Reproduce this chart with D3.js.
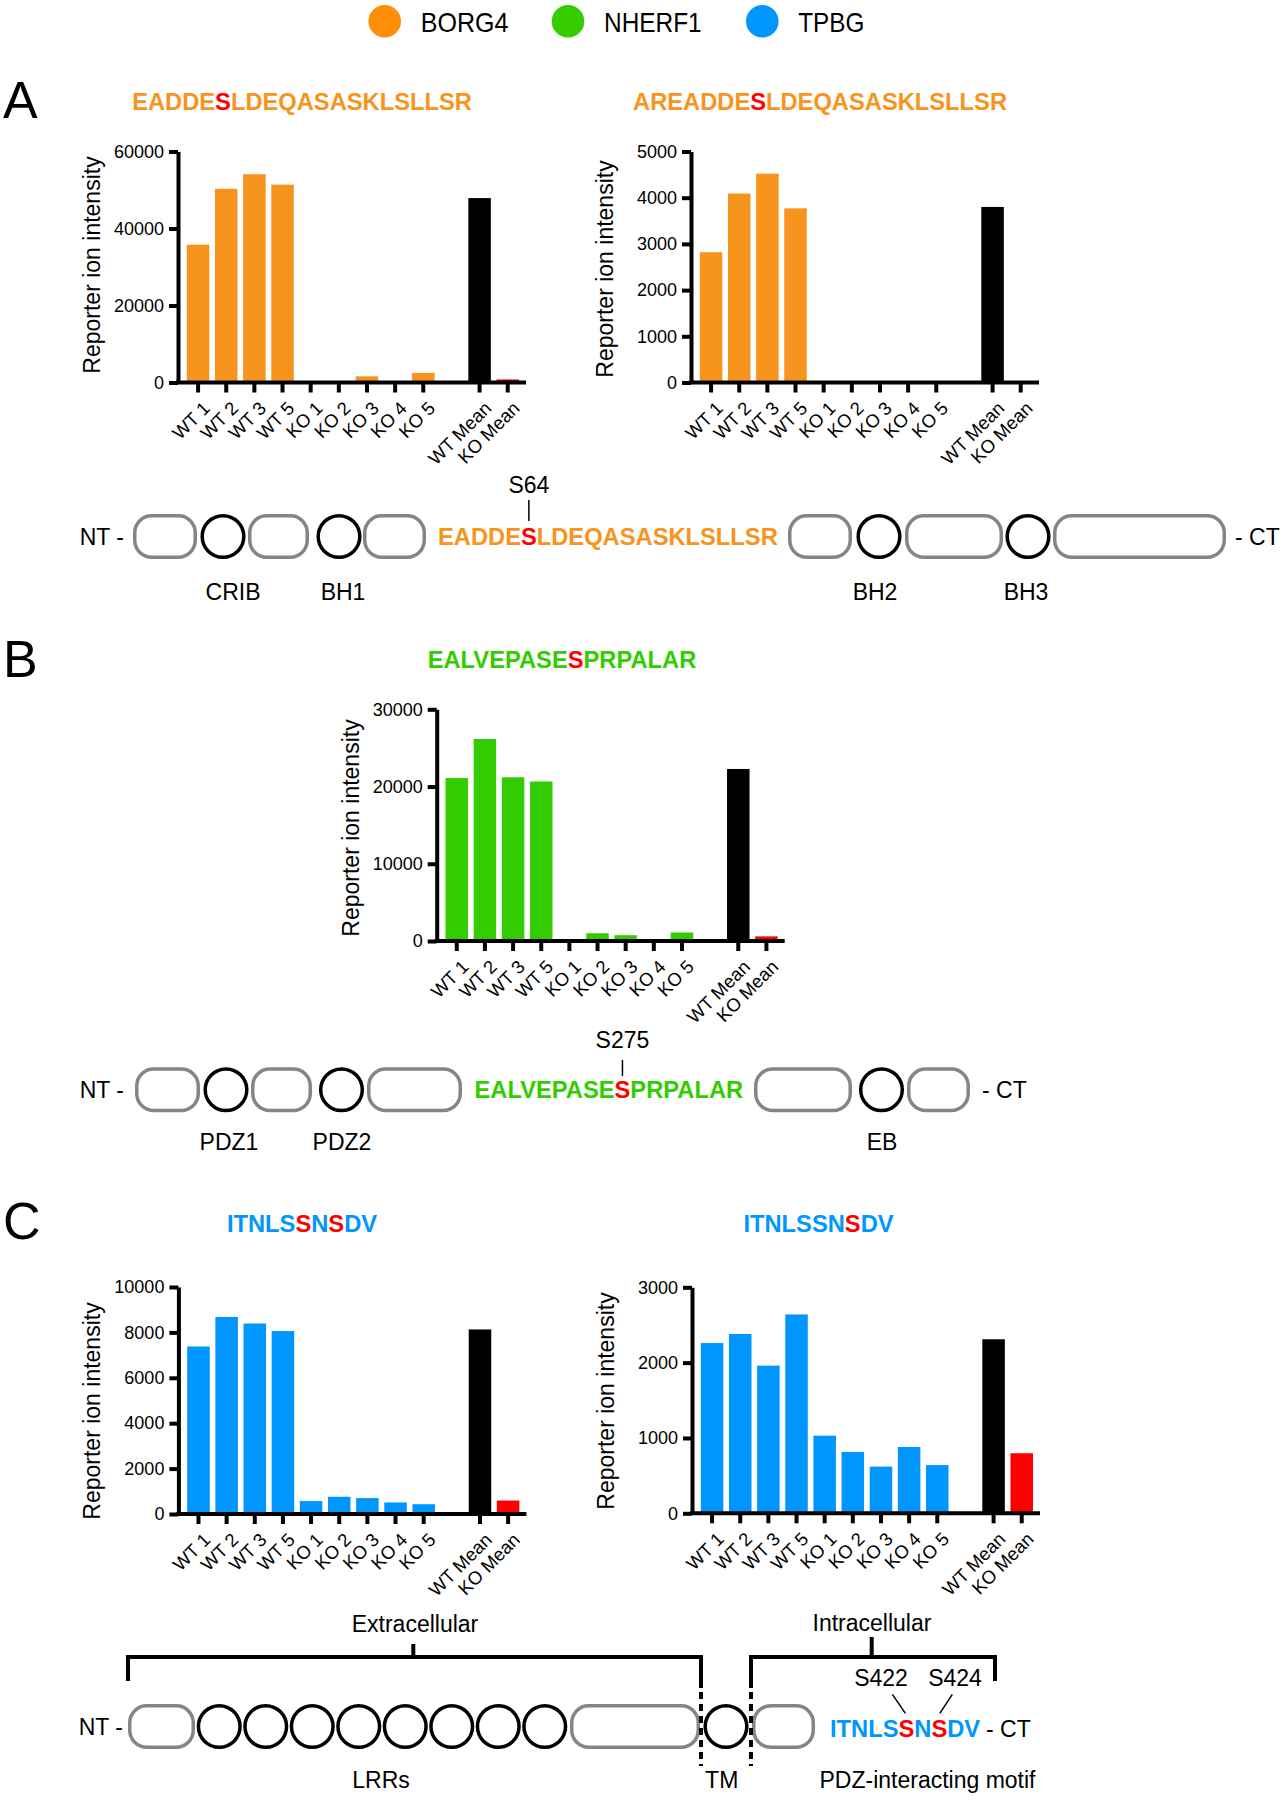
<!DOCTYPE html>
<html><head><meta charset="utf-8">
<script src="https://cdn.jsdelivr.net/npm/d3@7"></script>
<style>
body{margin:0;background:#fff}
svg{display:block}
text{font-family:"Liberation Sans",Arial,Helvetica,sans-serif}
</style>
</head><body>
<svg id="fig" width="1285" height="1800"></svg>
<script>
// ---------------- DATA ----------------
const categories = ["WT 1","WT 2","WT 3","WT 5","KO 1","KO 2","KO 3","KO 4","KO 5","WT Mean","KO Mean"];

const legendNames = ["BORG4","NHERF1","TPBG"];

// BORG4 peptide 1: EADDESLDEQASASKLSLLSR
const borg4Pep1Values = [35800, 50300, 54100, 51400, 300, 0, 1600, 0, 2500, 47900, 800];
const borg4Pep1Ticks = [0, 20000, 40000, 60000];
// BORG4 peptide 2: AREADDESLDEQASASKLSLLSR
const borg4Pep2Values = [2820, 4090, 4520, 3770, 0, 0, 0, 0, 0, 3800, 0];
const borg4Pep2Ticks = [0, 1000, 2000, 3000, 4000, 5000];
// NHERF1 peptide: EALVEPASESPRPALAR
const nherf1Values = [21100, 26150, 21200, 20650, 0, 1000, 750, 0, 1100, 22275, 600];
const nherf1Ticks = [0, 10000, 20000, 30000];
// TPBG peptide (S422 + S424)
const tpbgPep1Values = [7380, 8680, 8390, 8060, 570, 760, 700, 510, 430, 8130, 594];
const tpbgPep1Ticks = [0, 2000, 4000, 6000, 8000, 10000];
// TPBG peptide (S424)
const tpbgPep2Values = [2260, 2380, 1960, 2640, 1030, 815, 620, 880, 640, 2310, 797];
const tpbgPep2Ticks = [0, 1000, 2000, 3000];

const borg4Seq = "EADDESLDEQASASKLSLLSR";
const borg4Seq2 = "AREADDESLDEQASASKLSLLSR";
const nherf1Seq = "EALVEPASESPRPALAR";
const tpbgSeq = "ITNLSSNSDV";

const borg4Domains = ["CRIB","BH1","BH2","BH3"];
const nherf1Domains = ["PDZ1","PDZ2","EB"];
const tpbgRegions = ["LRRs","TM","PDZ-interacting motif"];

// ---------------- STYLE ----------------
const ORANGE = "#F7941D", GREEN = "#33CC00", BLUE = "#0096FF", RED = "#FF0000";
const legendColors = ["#FF8F0B", "#36CC00", "#0096FF"];
const FONT = '"Liberation Sans", Arial, Helvetica, sans-serif';
const svg = d3.select("#fig");

// ---------------- LEGEND ----------------
const legendPos = [384.7, 568, 762.3];
const legendTextW = [87.7, 97.7, 66];
legendNames.forEach((n, i) => {
  svg.append("circle").attr("cx", legendPos[i]).attr("cy", 21.3).attr("r", 16.3).attr("fill", legendColors[i]);
  svg.append("text").attr("x", legendPos[i] + 36).attr("y", 31.5).attr("font-size", 28)
    .attr("textLength", legendTextW[i]).attr("lengthAdjust", "spacingAndGlyphs").attr("fill", "#000").text(n);
});

// ---------------- PANEL LETTERS ----------------
[["A", 118], ["B", 677], ["C", 1239]].forEach(([t, y]) => {
  svg.append("text").attr("x", 3).attr("y", y).attr("font-size", 52).attr("fill", "#000").text(t);
});

// ---------------- HELPERS ----------------
function seqText(x, y, seq, redIdx, color, anchor) {
  const t = svg.append("text").attr("x", x).attr("y", y).attr("font-size", 23.7)
    .attr("font-weight", "bold").attr("text-anchor", anchor || "start");
  seq.split("").forEach((c, i) => {
    t.append("tspan").attr("fill", redIdx.includes(i) ? RED : color).text(c);
  });
  return t;
}
function charCenter(t, i) {
  const e = t.node().getExtentOfChar(i);
  return e.x + e.width / 2;
}
function plainText(x, y, s, anchor, size) {
  return svg.append("text").attr("x", x).attr("y", y).attr("font-size", size || 23)
    .attr("text-anchor", anchor || "middle").attr("fill", "#000").text(s);
}

function barChart(o) {
  const g = svg.append("g");
  const step = 28.15;
  const slots = [...categories.slice(0, 9), "__gap", ...categories.slice(9)];
  const x = d3.scaleBand().domain(slots)
    .range([o.axisX + 6, o.axisX + 6 + step * slots.length])
    .paddingInner(0.2).paddingOuter(0.1);
  const y = d3.scaleLinear().domain([0, o.yMax]).range([o.bottom, o.top]);
  const rows = categories.map((c, i) => ({
    c, v: o.values[i],
    f: c === "WT Mean" ? "#000" : (c === "KO Mean" ? RED : o.color)
  }));
  g.selectAll("rect.bar").data(rows).join("rect").attr("class", "bar")
    .attr("x", d => x(d.c)).attr("width", x.bandwidth())
    .attr("y", d => y(d.v)).attr("height", d => o.bottom - y(d.v))
    .attr("fill", d => d.f);

  // y axis
  const yg = g.append("g").attr("transform", `translate(${o.axisX},0)`)
    .call(d3.axisLeft(y).tickValues(o.ticks).tickSize(9).tickPadding(5).tickSizeOuter(0).tickFormat(d3.format("d")));
  yg.attr("font-family", FONT);
  yg.select(".domain").attr("stroke", "#000").attr("stroke-width", 4);
  yg.selectAll(".tick line").attr("stroke", "#000").attr("stroke-width", 4);
  yg.selectAll(".tick text").attr("font-size", 18).attr("fill", "#000");

  // x axis
  const xg = g.append("g").attr("transform", `translate(0,${o.bottom})`)
    .call(d3.axisBottom(x).tickValues(categories).tickSize(10).tickSizeOuter(0));
  xg.attr("font-family", FONT);
  xg.select(".domain").remove();
  xg.selectAll(".tick line").attr("stroke", "#000").attr("stroke-width", 4);
  xg.selectAll(".tick text").attr("y", null).attr("dy", null).attr("text-anchor", "end")
    .attr("transform", "translate(13,27) rotate(-45)").attr("font-size", 18.5).attr("fill", "#000");
  g.append("line").attr("x1", o.axisX - 2).attr("x2", o.axisX + 348)
    .attr("y1", o.bottom).attr("y2", o.bottom).attr("stroke", "#000").attr("stroke-width", 4);

  // y label
  g.append("text").attr("transform", `translate(${o.axisX - 78},${o.labelY}) rotate(-90)`)
    .attr("text-anchor", "middle").attr("font-size", 23).attr("fill", "#000")
    .text("Reporter ion intensity");
}

// ---------------- CHARTS ----------------
seqText(302, 110, borg4Seq, [5], ORANGE, "middle");
seqText(820, 110, borg4Seq2, [7], ORANGE, "middle");
barChart({axisX: 178, top: 151.5, bottom: 382.5, yMax: 60000, ticks: borg4Pep1Ticks, values: borg4Pep1Values, color: ORANGE, labelY: 265});
barChart({axisX: 691, top: 151.5, bottom: 382.5, yMax: 5000, ticks: borg4Pep2Ticks, values: borg4Pep2Values, color: ORANGE, labelY: 269});

seqText(562, 668.3, nherf1Seq, [9], GREEN, "middle");
barChart({axisX: 436.7, top: 709.3, bottom: 941, yMax: 30000, ticks: nherf1Ticks, values: nherf1Values, color: GREEN, labelY: 828});

seqText(302, 1231.7, tpbgSeq, [5, 7], BLUE, "middle");
seqText(818.5, 1231.7, tpbgSeq, [7], BLUE, "middle");
barChart({axisX: 178.4, top: 1287, bottom: 1514, yMax: 10000, ticks: tpbgPep1Ticks, values: tpbgPep1Values, color: BLUE, labelY: 1411});
barChart({axisX: 692, top: 1287.3, bottom: 1513.3, yMax: 3000, ticks: tpbgPep2Ticks, values: tpbgPep2Values, color: BLUE, labelY: 1401});

// ---------------- DOMAIN DIAGRAMS ----------------
const SW = 3.5;
function box(x0, x1, cy) {
  svg.append("rect").attr("x", x0 + SW / 2).attr("y", cy - 22.5 + SW / 2)
    .attr("width", x1 - x0 - SW).attr("height", 45 - SW).attr("rx", 17)
    .attr("fill", "none").attr("stroke", "#858585").attr("stroke-width", SW);
}
function ring(cx, cy) {
  svg.append("circle").attr("cx", cx).attr("cy", cy).attr("r", 20.8)
    .attr("fill", "none").attr("stroke", "#000").attr("stroke-width", SW);
}
function vline(x, y1, y2, w, dash) {
  const l = svg.append("line").attr("x1", x).attr("x2", x).attr("y1", y1).attr("y2", y2)
    .attr("stroke", "#000").attr("stroke-width", w || 1.5);
  if (dash) l.attr("stroke-dasharray", dash);
  return l;
}

// A: BORG4
{
  const cy = 536.5;
  [[133,197],[248,309],[363,426],[788,852],[905,1003],[1053,1226]].forEach(b => box(b[0], b[1], cy));
  [223, 339, 879, 1028].forEach(c => ring(c, cy));
  plainText(124, 545, "NT -", "end");
  plainText(1235, 545, "- CT", "start");
  const t = seqText(438, 545, borg4Seq, [5], ORANGE);
  const sx = charCenter(t, 5);
  plainText(sx, 493, "S64");
  vline(sx, 500, 521);
  [233, 343, 875, 1026].forEach((x, i) => plainText(x, 600, borg4Domains[i]));
}

// B: NHERF1
{
  const cy = 1089.7;
  [[135,200],[251,312],[367,462],[754,852],[907,970]].forEach(b => box(b[0], b[1], cy));
  [226, 341.5, 881.5].forEach(c => ring(c, cy));
  plainText(124, 1098, "NT -", "end");
  plainText(982, 1098, "- CT", "start");
  const t = seqText(474.5, 1098, nherf1Seq, [9], GREEN);
  const sx = charCenter(t, 9);
  plainText(sx, 1048, "S275");
  vline(sx, 1060, 1076);
  [229, 342, 882].forEach((x, i) => plainText(x, 1150, nherf1Domains[i]));
}

// C: TPBG
{
  const cy = 1726.5;
  [[128,195],[570,700],[752,815]].forEach(b => box(b[0], b[1], cy));
  d3.range(8).forEach(i => ring(196 + 23.25 + 46.5 * i, cy));
  ring(726, cy);
  plainText(123, 1735, "NT -", "end");
  const t = seqText(830, 1737, tpbgSeq, [5, 7], BLUE);
  plainText(986, 1737, "- CT", "start");
  const s1 = charCenter(t, 5), s2 = charCenter(t, 7);
  plainText(881, 1686, "S422");
  plainText(955, 1686, "S424");
  svg.append("line").attr("x1", s1 - 14).attr("y1", 1694.3).attr("x2", s1 - 1).attr("y2", 1713.3).attr("stroke", "#000").attr("stroke-width", 1.5);
  svg.append("line").attr("x1", s2 + 13).attr("y1", 1694.3).attr("x2", s2 + 0.5).attr("y2", 1713.3).attr("stroke", "#000").attr("stroke-width", 1.5);

  // brackets
  const by = 1657;
  svg.append("path").attr("d", `M128,1681 V${by} H701`).attr("fill", "none").attr("stroke", "#000").attr("stroke-width", 4);
  vline(413.3, 1644, by, 4);
  vline(701, by - 2, 1688, 4);
  vline(701, 1692, 1766, 4, "7,5");
  svg.append("path").attr("d", `M995,1681 V${by} H751`).attr("fill", "none").attr("stroke", "#000").attr("stroke-width", 4);
  vline(871.7, 1637, by, 4);
  vline(751, by - 2, 1688, 4);
  vline(751, 1692, 1766, 4, "7,5");
  plainText(415, 1631.7, "Extracellular");
  plainText(872, 1630.7, "Intracellular");
  plainText(381, 1788, tpbgRegions[0]);
  plainText(721.7, 1788, tpbgRegions[1]);
  plainText(927.5, 1788, tpbgRegions[2]);
}
</script>
</body></html>
